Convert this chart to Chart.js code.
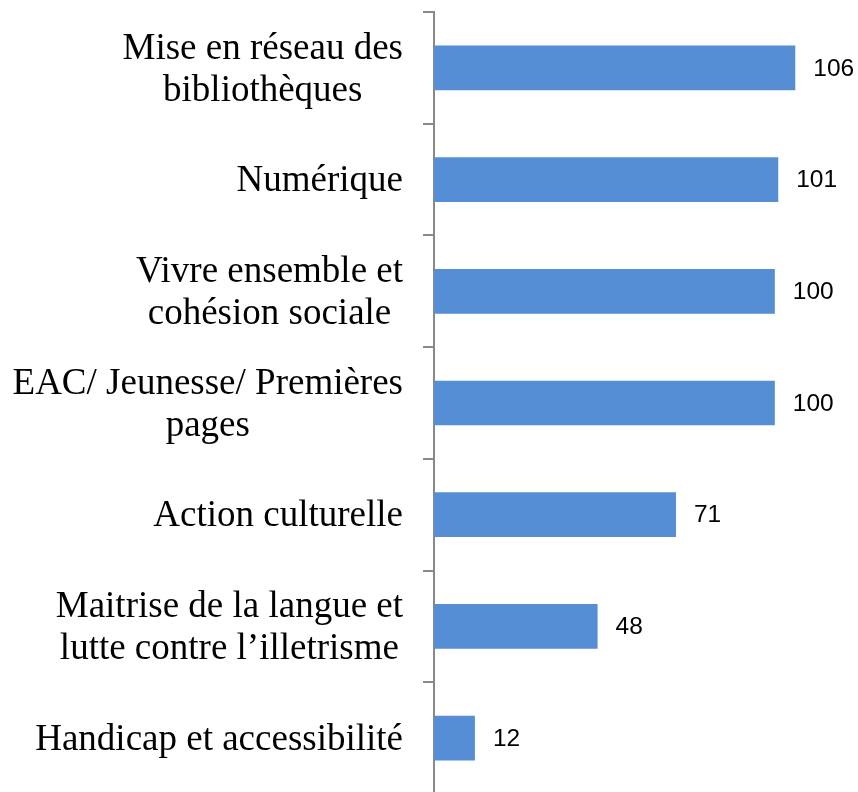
<!DOCTYPE html>
<html>
<head>
<meta charset="utf-8">
<script src="https://cdn.jsdelivr.net/npm/chart.js@4"></script>
<style>
    html, body { margin: 0; padding: 0; background: #fff; overflow: hidden; }
    canvas { display: block; }
</style>
</head>
<body>
<canvas id="themesChart" width="858" height="800"></canvas>
<script>
const categories = [
    ['Mise en réseau des', 'bibliothèques'],
    ['Numérique'],
    ['Vivre ensemble et', 'cohésion sociale'],
    ['EAC/ Jeunesse/ Premières', 'pages'],
    ['Action culturelle'],
    ['Maitrise de la langue et', 'lutte contre l’illetrisme'],
    ['Handicap et accessibilité']
];
const projectCounts = [106, 101, 100, 100, 71, 48, 12];

const axisGrey = '#898989';

// category labels: block right aligned, lines centered inside the block
const categoryLabels = {
    id: 'categoryLabels',
    afterDraw(chart) {
        const ctx = chart.ctx;
        const yScale = chart.scales.y;
        const rightEdge = 403;
        const lineGap = 42;
        ctx.save();
        ctx.font = '37px "Liberation Serif", "Times New Roman", serif';
        ctx.fillStyle = '#000';
        ctx.textAlign = 'center';
        ctx.textBaseline = 'middle';
        categories.forEach((lines, i) => {
            const widest = Math.max(...lines.map(l => ctx.measureText(l).width));
            const cx = rightEdge - widest / 2;
            const cy = yScale.getPixelForTick(i) + 2;
            const top = cy - (lines.length - 1) * lineGap / 2;
            lines.forEach((line, j) => ctx.fillText(line, cx, top + j * lineGap));
        });
        ctx.restore();
    }
};

// value labels at the end of each bar
const valueLabels = {
    id: 'valueLabels',
    afterDatasetsDraw(chart) {
        const ctx = chart.ctx;
        const meta = chart.getDatasetMeta(0);
        ctx.save();
        ctx.font = '24.5px "Liberation Sans", Arial, sans-serif';
        ctx.fillStyle = '#000';
        ctx.textAlign = 'left';
        ctx.textBaseline = 'middle';
        meta.data.forEach((bar, i) => {
            ctx.fillText(String(projectCounts[i]), bar.x + 18, bar.y + 1);
        });
        ctx.restore();
    }
};

const ctx = document.getElementById('themesChart').getContext('2d');
const themesChart = new Chart(ctx, {
    type: 'bar',
    data: {
        labels: categories,
        datasets: [{
            data: projectCounts,
            backgroundColor: '#558ED5',
            borderWidth: 0,
            barPercentage: 0.4,
            categoryPercentage: 1
        }]
    },
    options: {
        indexAxis: 'y',
        responsive: false,
        animation: false,
        layout: {
            padding: { top: 12, bottom: 6, right: 15, left: 0 }
        },
        scales: {
            x: {
                display: false,
                min: 0,
                max: 120
            },
            y: {
                grid: {
                    display: true,
                    offset: true,
                    drawOnChartArea: false,
                    drawTicks: true,
                    tickLength: 11,
                    color: axisGrey,
                    lineWidth: 2
                },
                border: {
                    color: axisGrey,
                    width: 2
                },
                ticks: {
                    display: false
                },
                afterFit(scale) {
                    scale.width = 434;
                }
            }
        },
        plugins: {
            legend: { display: false },
            tooltip: { enabled: false }
        }
    },
    plugins: [valueLabels, categoryLabels]
});
</script>
</body>
</html>
